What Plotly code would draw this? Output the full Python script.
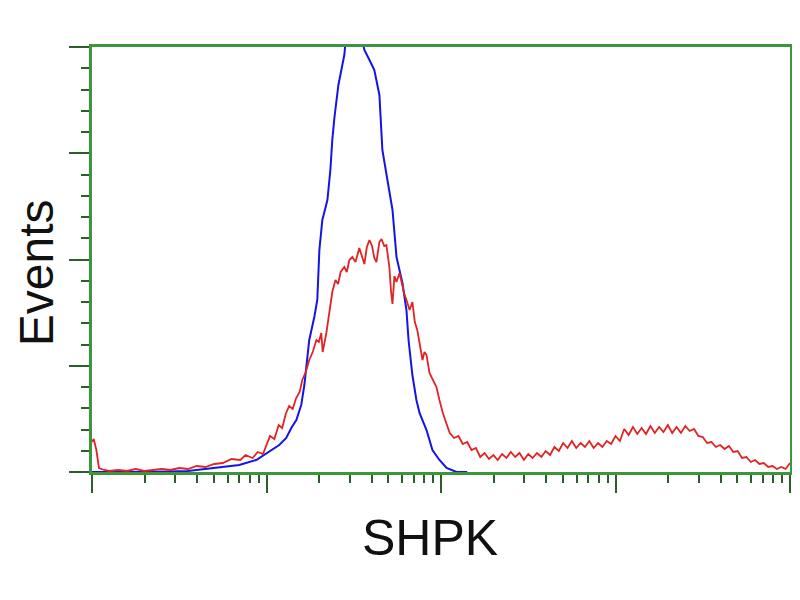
import numpy as np
import plotly.graph_objects as go

# log10 fluorescence intensity (decades) and event counts
red_decade = [0.000, 0.010, 0.025, 0.040, 0.07, 0.10, 0.15, 0.20, 0.25, 0.30, 0.35, 0.40, 0.45, 0.50, 0.55,
              0.60, 0.65, 0.70, 0.75, 0.80, 0.85, 0.88, 0.92, 0.95, 0.98, 1.00, 1.02, 1.045, 1.07, 1.09,
              1.11, 1.13, 1.15, 1.17, 1.19, 1.205, 1.225, 1.245, 1.265, 1.286, 1.30, 1.314, 1.322, 1.343,
              1.36, 1.377, 1.395, 1.41, 1.425, 1.446, 1.46, 1.475, 1.492, 1.51, 1.532, 1.548, 1.561, 1.575,
              1.59, 1.605, 1.618, 1.63, 1.647, 1.659, 1.675, 1.687, 1.704, 1.714, 1.722, 1.733, 1.745, 1.762,
              1.779, 1.79, 1.802, 1.82, 1.836, 1.85, 1.864, 1.877, 1.894, 1.905, 1.917, 1.934, 1.955, 1.974,
              1.991, 2.009, 2.030,
              2.050, 2.075, 2.100, 2.125, 2.150, 2.175, 2.200, 2.225, 2.250, 2.275, 2.300, 2.325, 2.350,
              2.375, 2.400, 2.425, 2.450, 2.475, 2.500, 2.525, 2.550, 2.575, 2.600, 2.625, 2.650, 2.675,
              2.700, 2.725, 2.750, 2.775, 2.800, 2.825, 2.850, 2.875, 2.900, 2.925, 2.950, 2.975, 3.000,
              3.025, 3.050, 3.075, 3.100, 3.125, 3.150, 3.175, 3.200, 3.225, 3.250, 3.275, 3.300, 3.325,
              3.350, 3.375, 3.400, 3.425, 3.450, 3.475, 3.500, 3.525, 3.550, 3.575, 3.600, 3.625, 3.650,
              3.675, 3.700, 3.725, 3.750, 3.775, 3.800, 3.825, 3.850, 3.875, 3.900, 3.925, 3.950, 3.975, 4.000]
red_counts = [30, 33, 22, 4, 2, 1, 2, 1, 3, 1, 2, 3, 2, 4, 3,
              6, 5, 8, 9, 13, 12, 17, 14, 20, 18, 28, 36, 33, 47, 44,
              58, 66, 63, 74, 80, 92, 100, 112, 120, 132, 130, 139, 120, 139,
              162, 180, 192, 188, 200, 205, 200, 212, 215, 210, 224, 215, 208, 225,
              232, 226, 214, 210, 230, 233, 226, 227, 205, 180, 168, 196, 190, 199,
              184, 178, 172, 162, 170, 150, 142, 128, 112, 120, 117, 99, 92, 85,
              72, 60, 49,
              39, 34, 36, 28, 30, 22, 24, 15, 19, 13, 17, 12, 18,
              14, 20, 15, 19, 12, 18, 14, 19, 15, 21, 17, 25, 21,
              29, 24, 31, 24, 29, 25, 31, 24, 29, 25, 31, 28, 36,
              31, 43, 37, 45, 38, 44, 38, 46, 39, 45, 40, 47, 39,
              45, 39, 46, 41, 43, 36, 35, 29, 30, 25, 27, 23, 26,
              20, 21, 14, 15, 10, 12, 8, 9, 5, 6, 3, 5, 3, 9]

blue_decade = [0.0, 0.33, 0.55, 0.712, 0.844, 0.941, 0.987, 1.027, 1.073, 1.113, 1.142, 1.171, 1.199,
               1.217, 1.245, 1.274, 1.291, 1.303, 1.320, 1.349, 1.366, 1.377, 1.389, 1.412, 1.429, 1.446,
               1.458, 1.475, 1.504, 1.532, 1.550, 1.561, 1.590, 1.618, 1.647, 1.664, 1.693, 1.722, 1.745,
               1.779, 1.802, 1.814, 1.836, 1.859, 1.877, 1.917, 1.951, 1.991, 2.032, 2.089, 2.15]
blue_counts = [0, 0, 1, 4, 7, 12, 17, 22, 27, 34, 44, 52, 67,
               87, 132, 155, 172, 222, 252, 272, 302, 332, 354, 387, 402, 417,
               440, 450, 455, 450, 430, 422, 412, 402, 377, 322, 292, 262, 215,
               189, 162, 132, 97, 72, 59, 42, 22, 12, 4, 0, 0]

x_label = "SHPK"
y_label = "Events"

red_x = [10 ** d for d in red_decade]
blue_x = [10 ** d for d in blue_decade]

major_x = [1, 10, 100, 1000, 10000]
minor_x = [k * 10 ** n for n in range(4) for k in range(2, 10)]

line_green = "#3c963c"
tick_col = "#2b5e2b"

fig = go.Figure()
fig.add_trace(go.Scatter(x=blue_x, y=blue_counts, mode="lines",
                         line=dict(color="#1414e6", width=2), showlegend=False))
fig.add_trace(go.Scatter(x=red_x, y=red_counts, mode="lines",
                         line=dict(color="#e02424", width=1.8), showlegend=False))

fig.update_layout(
    width=800, height=600,
    margin=dict(l=84, r=18, t=39, b=136),
    paper_bgcolor="white", plot_bgcolor="white",
    font=dict(family="Liberation Sans, Arial, sans-serif", color="#111111"),
    xaxis=dict(type="log", range=[0, 4], showgrid=False, zeroline=False,
               showline=True, mirror=True, linecolor=line_green, linewidth=3,
               tickmode="array", tickvals=major_x, showticklabels=False,
               ticks="outside", ticklen=18, tickwidth=2, tickcolor=tick_col,
               minor=dict(tickmode="array", tickvals=minor_x, ticks="outside",
                          ticklen=8, tickwidth=2, tickcolor=tick_col, showgrid=False)),
    yaxis=dict(range=[0, 425], showgrid=False, zeroline=False,
               showline=True, mirror=True, linecolor=line_green, linewidth=3,
               tickmode="linear", tick0=0, dtick=106.25, showticklabels=False,
               ticks="outside", ticklen=20, tickwidth=2, tickcolor=tick_col,
               minor=dict(tickmode="linear", tick0=0, dtick=21.25, ticks="outside",
                          ticklen=8, tickwidth=2, tickcolor=tick_col, showgrid=False)),
    annotations=[
        dict(text=x_label, xref="paper", yref="paper", x=0.484, y=-0.155,
             xanchor="center", yanchor="middle", showarrow=False,
             font=dict(size=50, color="#111111")),
        dict(text=y_label, xref="paper", yref="paper", x=-0.080, y=0.468,
             xanchor="center", yanchor="middle", showarrow=False, textangle=-90,
             font=dict(size=48, color="#111111")),
    ],
)

fig.write_html("out.html")
